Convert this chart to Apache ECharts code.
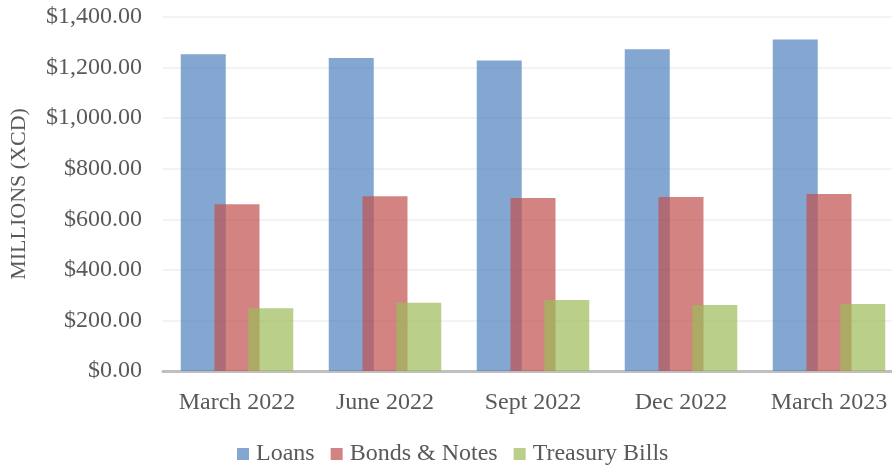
<!DOCTYPE html>
<html>
<head>
<meta charset="utf-8">
<script src="https://cdn.jsdelivr.net/npm/echarts@6/dist/echarts.min.js"></script>
<style>
  html, body { margin: 0; padding: 0; background: #fff; overflow: hidden; }
  /* plot area runs slightly past the right edge, as in the original */
  #root { width: 905px; height: 465px; }
</style>
</head>
<body>
<div id="root"></div>
<script>
// chart data
const quarters = ['March 2022', 'June 2022', 'Sept 2022', 'Dec 2022', 'March 2023']
const loans = [1253, 1238, 1228, 1272, 1311]
const bondsNotes = [659, 691, 684, 688, 700]
const treasuryBills = [248, 270, 281, 261, 265]

const font = '"Liberation Serif", "Times New Roman", serif'
const textColor = '#595959'

const chart = echarts.init(document.getElementById('root'), null, { renderer: 'canvas' })

const money = v => '$' + v.toLocaleString('en-US', { minimumFractionDigits: 2, maximumFractionDigits: 2 })

const option = {
  animation: false,
  textStyle: { fontFamily: font },
  grid: {
    left: 161,
    top: 17,
    right: 2,
    bottom: 94
  },
  legend: {
    left: 232,
    top: 437,
    icon: 'rect',
    itemWidth: 12,
    itemHeight: 12,
    itemGap: 16,
    textStyle: { fontFamily: font, fontSize: 24, color: textColor, padding: [0, 0, 0, 2] },
    data: ['Loans', 'Bonds & Notes', 'Treasury Bills']
  },
  xAxis: {
    type: 'category',
    data: quarters,
    axisTick: { show: false },
    axisLine: { lineStyle: { color: '#bfbfbf', width: 3 } },
    axisLabel: { interval: 0, margin: 20, fontSize: 24, color: textColor, fontFamily: font }
  },
  yAxis: {
    type: 'value',
    min: 0,
    max: 1400,
    interval: 200,
    name: 'MILLIONS (XCD)',
    nameLocation: 'middle',
    nameGap: 133,
    nameTextStyle: { fontSize: 22, color: textColor, fontFamily: font },
    axisLine: { show: false },
    axisTick: { show: false },
    splitLine: { lineStyle: { color: '#efefef', width: 1.5 } },
    axisLabel: { margin: 21, fontSize: 24, color: textColor, fontFamily: font, formatter: money }
  },
  series: [
    {
      name: 'Loans',
      type: 'bar',
      data: loans,
      barWidth: 45,
      barGap: '-25%',
      itemStyle: { color: 'rgba(79,129,189,0.7)' }
    },
    {
      name: 'Bonds & Notes',
      type: 'bar',
      data: bondsNotes,
      barWidth: 45,
      barGap: '-25%',
      itemStyle: { color: 'rgba(192,80,77,0.7)' }
    },
    {
      name: 'Treasury Bills',
      type: 'bar',
      data: treasuryBills,
      barWidth: 45,
      barGap: '-25%',
      itemStyle: { color: 'rgba(155,187,89,0.7)' }
    }
  ]
}

chart.setOption(option)
</script>
</body>
</html>
